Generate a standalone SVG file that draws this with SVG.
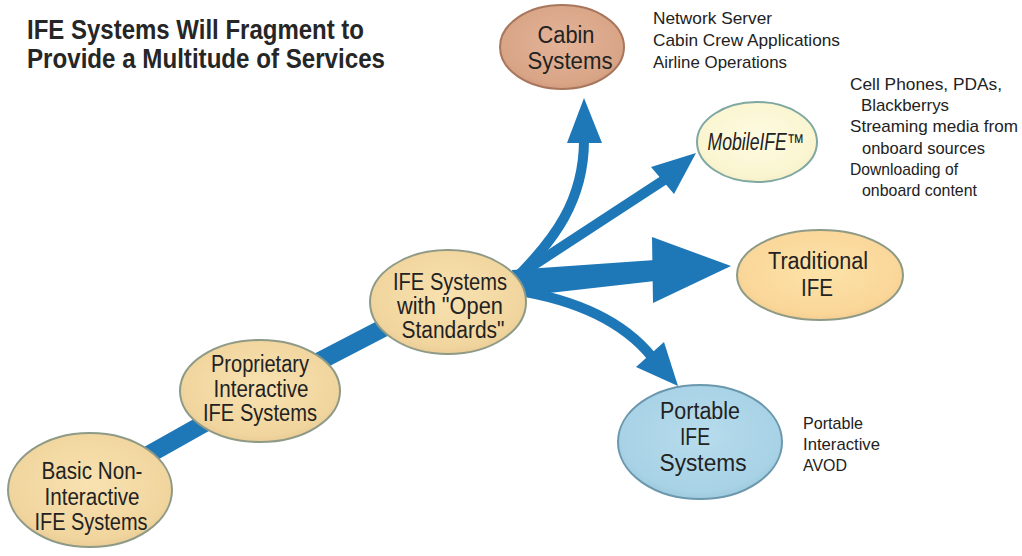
<svg xmlns="http://www.w3.org/2000/svg" width="1022" height="556" viewBox="0 0 1022 556">
<defs>
<radialGradient id="gTan" cx="0.5" cy="0.45" r="0.6"><stop offset="0" stop-color="#f8e2b0"/><stop offset="0.8" stop-color="#f1d59e"/><stop offset="1" stop-color="#e6c890"/></radialGradient>
<radialGradient id="gTrad" cx="0.5" cy="0.45" r="0.6"><stop offset="0" stop-color="#fde3a8"/><stop offset="0.8" stop-color="#fad699"/><stop offset="1" stop-color="#f0c98a"/></radialGradient>
<radialGradient id="gCabin" cx="0.5" cy="0.45" r="0.6"><stop offset="0" stop-color="#e3b398"/><stop offset="0.8" stop-color="#d9a587"/><stop offset="1" stop-color="#cc9679"/></radialGradient>
<radialGradient id="gMobile" cx="0.5" cy="0.45" r="0.6"><stop offset="0" stop-color="#fdfbe2"/><stop offset="0.8" stop-color="#faf5d0"/><stop offset="1" stop-color="#f0ebc0"/></radialGradient>
<radialGradient id="gPort" cx="0.5" cy="0.45" r="0.6"><stop offset="0" stop-color="#b7dcec"/><stop offset="0.8" stop-color="#a8d2e6"/><stop offset="1" stop-color="#98c4da"/></radialGradient>
</defs>
<style>
.title{font-family:"Liberation Sans",Arial,sans-serif;font-weight:bold;font-size:27px;fill:#262626}
.nt{font-family:"Liberation Sans",Arial,sans-serif;font-size:23px;fill:#222;text-anchor:middle}
.ann{font-family:"Liberation Sans",Arial,sans-serif;font-size:17px;fill:#222}
.tan{fill:url(#gTan);stroke:#8e9a86;stroke-width:2}
.band{fill:none;stroke:#1e78b8;stroke-width:18;stroke-linejoin:round}
.shaft{fill:none;stroke:#1e78b8;stroke-width:10}
.head{fill:#1e78b8}
</style>
<rect width="1022" height="556" fill="#ffffff"/>
<g id="title">
<text class="title" x="27" y="39" textLength="337" lengthAdjust="spacingAndGlyphs">IFE Systems Will Fragment to</text>
<text class="title" x="27" y="68" textLength="358" lengthAdjust="spacingAndGlyphs">Provide a Multitude of Services</text>
</g>
<g id="connectors">
<polyline class="band" points="100,482 260,392 445,296"/>
<path class="shaft" d="M512 282 C555 240 584 200 584 140"/>
<polygon class="head" points="567,143 584,98 602,143"/>
<path class="shaft" d="M514 278 L664 180"/>
<polygon class="head" points="651,167 696,153 674,194"/>
<polygon class="head" points="512,270 655,260 655,281 514,297"/>
<polygon class="head" points="652,237 731,266 653,303"/>
<path class="shaft" stroke-width="11" d="M514 290 Q610 305 652 357"/>
<polygon class="head" points="636,367 678,386 664,342"/>
</g>
<g id="node-basic">
<ellipse class="tan" cx="90" cy="490" rx="82" ry="57"/>
<text class="nt" x="92" y="479" textLength="101" lengthAdjust="spacingAndGlyphs">Basic Non-</text>
<text class="nt" x="92" y="505" textLength="95" lengthAdjust="spacingAndGlyphs">Interactive</text>
<text class="nt" x="91" y="530" textLength="113" lengthAdjust="spacingAndGlyphs">IFE Systems</text>
</g>
<g id="node-proprietary">
<ellipse class="tan" cx="260" cy="391" rx="80" ry="51"/>
<text class="nt" x="260" y="372" textLength="98" lengthAdjust="spacingAndGlyphs">Proprietary</text>
<text class="nt" x="261" y="397" textLength="95" lengthAdjust="spacingAndGlyphs">Interactive</text>
<text class="nt" x="260" y="421" textLength="114" lengthAdjust="spacingAndGlyphs">IFE Systems</text>
</g>
<g id="node-open">
<ellipse class="tan" cx="448" cy="302" rx="78" ry="52"/>
<text class="nt" x="450" y="290" textLength="114" lengthAdjust="spacingAndGlyphs">IFE Systems</text>
<text class="nt" x="450" y="314" textLength="106" lengthAdjust="spacingAndGlyphs">with "Open</text>
<text class="nt" x="453" y="338" textLength="103" lengthAdjust="spacingAndGlyphs">Standards"</text>
</g>
<g id="node-cabin">
<ellipse cx="562" cy="47" rx="62" ry="42" fill="url(#gCabin)" stroke="#a8765c" stroke-width="2"/>
<text class="nt" x="566" y="43" textLength="57" lengthAdjust="spacingAndGlyphs">Cabin</text>
<text class="nt" x="570" y="69" textLength="85" lengthAdjust="spacingAndGlyphs">Systems</text>
<text class="ann" x="653" y="24" textLength="119" lengthAdjust="spacingAndGlyphs">Network Server</text>
<text class="ann" x="653" y="46" textLength="187" lengthAdjust="spacingAndGlyphs">Cabin Crew Applications</text>
<text class="ann" x="653" y="68" textLength="134" lengthAdjust="spacingAndGlyphs">Airline Operations</text>
</g>
<g id="node-mobile">
<ellipse cx="757" cy="142" rx="60" ry="40" fill="url(#gMobile)" stroke="#7fa8a2" stroke-width="2"/>
<text class="nt" x="756" y="150" font-style="italic" textLength="97" lengthAdjust="spacingAndGlyphs">MobileIFE™</text>
<text class="ann" x="850" y="90" textLength="152" lengthAdjust="spacingAndGlyphs">Cell Phones, PDAs,</text>
<text class="ann" x="861" y="111" textLength="88" lengthAdjust="spacingAndGlyphs">Blackberrys</text>
<text class="ann" x="850" y="132" textLength="168" lengthAdjust="spacingAndGlyphs">Streaming media from</text>
<text class="ann" x="862" y="154" textLength="123" lengthAdjust="spacingAndGlyphs">onboard sources</text>
<text class="ann" x="850" y="175" textLength="108" lengthAdjust="spacingAndGlyphs">Downloading of</text>
<text class="ann" x="862" y="196" textLength="115" lengthAdjust="spacingAndGlyphs">onboard content</text>
</g>
<g id="node-traditional">
<ellipse cx="820" cy="275" rx="83" ry="45" fill="url(#gTrad)" stroke="#8e9a86" stroke-width="2"/>
<text class="nt" x="818" y="269" textLength="100" lengthAdjust="spacingAndGlyphs">Traditional</text>
<text class="nt" x="817" y="296" textLength="32" lengthAdjust="spacingAndGlyphs">IFE</text>
</g>
<g id="node-portable">
<ellipse cx="700" cy="442" rx="82" ry="57" fill="url(#gPort)" stroke="#6b98ad" stroke-width="2"/>
<text class="nt" x="700" y="419" textLength="80" lengthAdjust="spacingAndGlyphs">Portable</text>
<text class="nt" x="695" y="445" textLength="30" lengthAdjust="spacingAndGlyphs">IFE</text>
<text class="nt" x="703" y="471" textLength="87" lengthAdjust="spacingAndGlyphs">Systems</text>
<text class="ann" x="803" y="429" textLength="60" lengthAdjust="spacingAndGlyphs">Portable</text>
<text class="ann" x="803" y="450" textLength="77" lengthAdjust="spacingAndGlyphs">Interactive</text>
<text class="ann" x="803" y="471" textLength="44" lengthAdjust="spacingAndGlyphs">AVOD</text>
</g>
</svg>
